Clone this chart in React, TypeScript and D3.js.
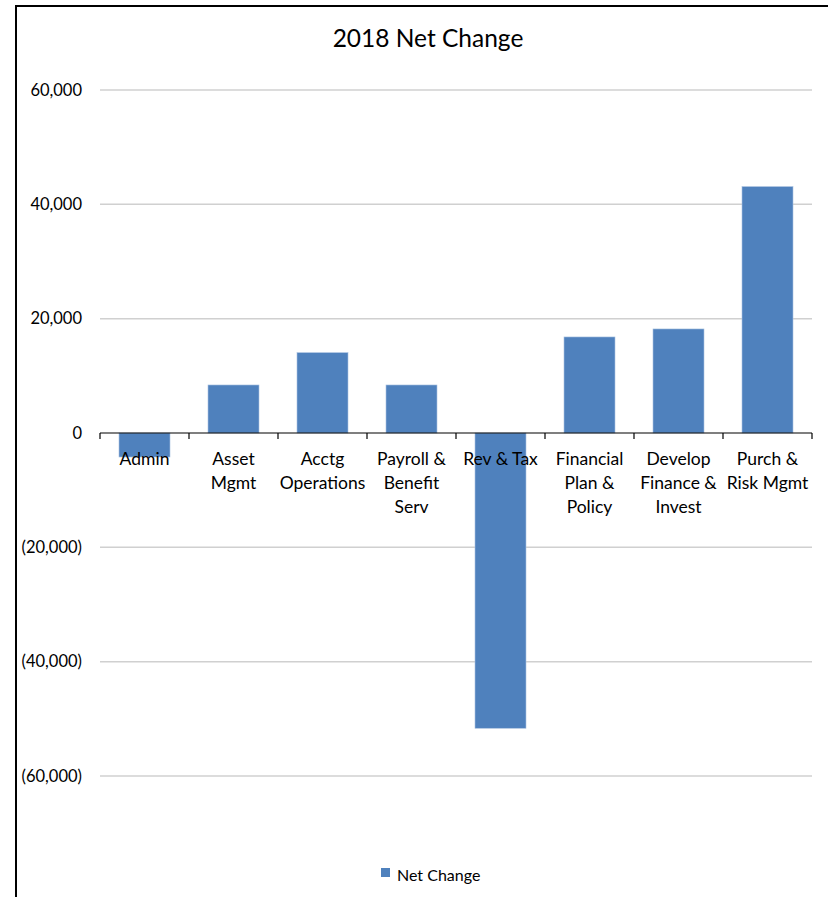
import React from "react";
import * as d3 from "d3";

const title = "2018 Net Change";
const seriesName = "Net Change";
const categories = [
  "Admin",
  "Asset\nMgmt",
  "Acctg\nOperations",
  "Payroll &\nBenefit\nServ",
  "Rev & Tax",
  "Financial\nPlan &\nPolicy",
  "Develop\nFinance &\nInvest",
  "Purch &\nRisk Mgmt",
];
const values = [-4200, 8400, 14050, 8400, -51650, 16800, 18200, 43100];
const yTicks = [-60000, -40000, -20000, 0, 20000, 40000, 60000];

const W = 828;
const H = 897;
const FONT = "Lato, 'Noto Sans', sans-serif";

export default function App() {
  const x = d3
    .scaleBand<number>()
    .domain(d3.range(categories.length))
    .range([100, 812])
    .paddingInner(0.427)
    .paddingOuter(0.2135);
  const band = d3.scaleBand<number>().domain(d3.range(categories.length)).range([100, 812]);
  const y = d3.scaleLinear().domain([-60000, 60000]).range([776, 90]);
  const fmt = (v: number) => {
    const s = d3.format(",")(Math.abs(v));
    return v < 0 ? `(${s})` : s;
  };
  const color = "#4F81BD";
  const y0 = y(0);

  return (
    <svg
      width={W}
      height={H}
      style={{ position: "absolute", left: 0, top: 0, background: "#fff" }}
      fontFamily={FONT}
    >
      <rect x={0} y={0} width={W} height={H} fill="#fff" />
      <rect x={16} y={6} width={W + 20} height={H + 20} fill="#fff" stroke="#000" strokeWidth={2} />
      <text x={428} y={47} textAnchor="middle" fontSize={24.5} fill="#000">
        {title}
      </text>
      {yTicks.map((t) => (
        <g key={t}>
          {t !== 0 && (
            <line x1={100} x2={812} y1={y(t)} y2={y(t)} stroke="#D0D0D0" strokeWidth={1.5} />
          )}
          <text x={82} y={y(t) + 5.5} textAnchor="end" fontSize={16.5} fill="#000">
            {fmt(t)}
          </text>
        </g>
      ))}
      {values.map((v, i) => (
        <rect
          key={i}
          x={x(i)}
          width={x.bandwidth()}
          y={Math.min(y(v), y0)}
          height={Math.abs(y(v) - y0)}
          fill={color}
          stroke="#A9C1E0"
          strokeWidth={0.6}
        />
      ))}
      <line x1={100} x2={812} y1={y0} y2={y0} stroke="#000" strokeWidth={1.2} />
      {d3.range(categories.length + 1).map((i) => {
        const xx = 100 + i * band.bandwidth();
        return <line key={i} x1={xx} x2={xx} y1={y0} y2={y0 + 6} stroke="#000" strokeWidth={1.2} />;
      })}
      {categories.map((c, i) => (
        <text key={i} textAnchor="middle" fontSize={17.5} fill="#000">
          {c.split("\n").map((ln, j) => (
            <tspan key={j} x={(band(i) as number) + band.bandwidth() / 2} y={465 + j * 24}>
              {ln}
            </tspan>
          ))}
        </text>
      ))}
      <rect x={381} y={868} width={9} height={9} fill={color} />
      <text x={397} y={881} fontSize={16} fill="#000">
        {seriesName}
      </text>
    </svg>
  );
}
